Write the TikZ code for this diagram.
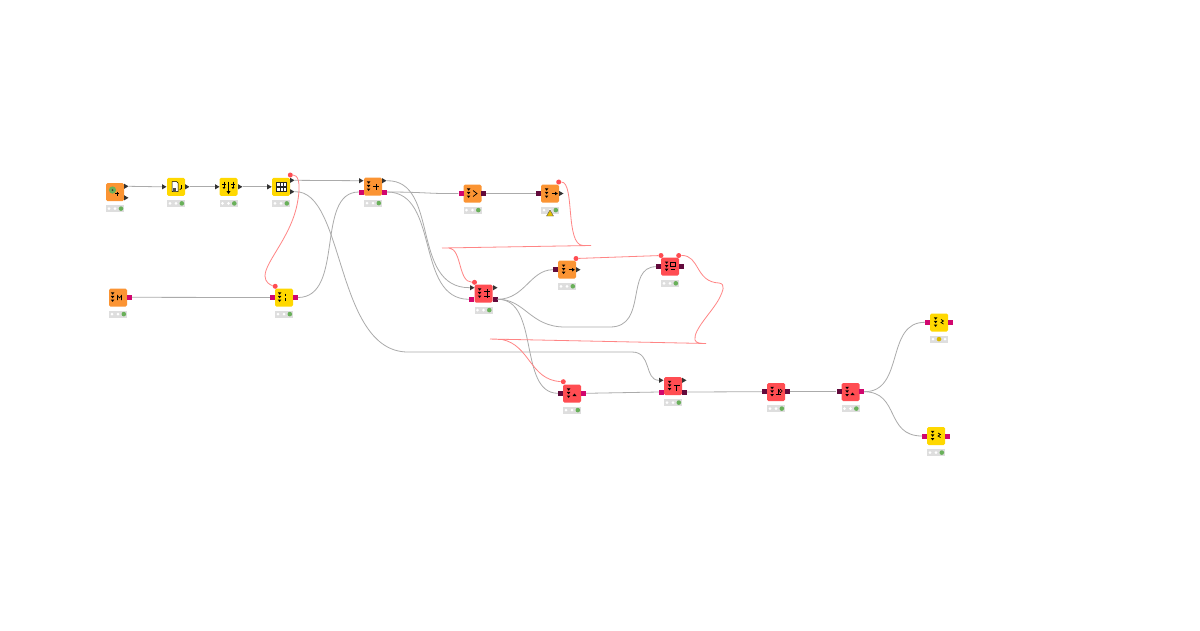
\documentclass[tikz,border=0pt]{standalone}
\usetikzlibrary{shapes.geometric}

\definecolor{knorange}{HTML}{FB9433}
\definecolor{knyellow}{HTML}{FFD800}
\definecolor{knred}{HTML}{FF4D52}
\definecolor{kncrimson}{HTML}{D1066E}
\definecolor{kndark}{HTML}{620A3C}
\definecolor{kngrey}{HTML}{ABABAB}
\definecolor{knflow}{HTML}{FF8585}
\definecolor{knlight}{HTML}{69B05A}

\tikzset{
    knbox/.style={rectangle, minimum size=18pt, inner sep=0pt, rounded corners=1.5pt},
    statusbar/.style={rectangle, fill=black!13, minimum width=18pt, minimum height=7pt, inner sep=0pt},
    datapin/.style={regular polygon, regular polygon sides=3, regular polygon rotate=-90, fill=black!80, minimum size=6pt, inner sep=0pt},
    docpin/.style={rectangle, fill=#1, minimum size=5pt, inner sep=0pt},
    flowdot/.style={circle, fill=knred, minimum size=5pt, inner sep=0pt},
    wire/.style={draw=kngrey, line width=0.8pt},
    flow/.style={draw=knflow, line width=0.8pt}
}

% node box, status bar with its three lamps
\newcommand{\knnode}[4]{
    \node[knbox, fill=#4] (#1) at (#2,#3) {};
    \node[statusbar] (#1-s) at (#2,#3+16.6) {};
    \foreach \d in {-6,0,6} {
        \fill[white] (#2+\d,#3+16.6) circle (1.5pt);
    }
}
% the three small marks on the left of a node
\newcommand{\knmarks}[2]{
    \foreach \d in {-4,-0.4,3.2} {
        \fill[black] (#1-5.2,#2+\d-1.2) -- (#1-1.6,#2+\d-1.2) -- (#1-3.4,#2+\d+1.2) -- cycle;
    }
}

\begin{document}
\begin{tikzpicture}[x=1pt,y=-1pt]
    \useasboundingbox (0,0) rectangle (1200,630);
    \fill[white] (0,0) rectangle (1200,630);

    % Nodes
    \knnode{n1}{115}{192}{knorange}
    \knnode{n2}{176}{186.8}{knyellow}
    \knnode{n3}{228.5}{186.8}{knyellow}
    \knnode{n4}{281}{186.8}{knyellow}
    \knnode{m}{118}{297.5}{knorange}
    \knnode{j}{284}{297.5}{knyellow}
    \knnode{n5}{373}{186.5}{knorange}
    \knnode{n6}{472.5}{193.5}{knorange}
    \knnode{n7}{550}{193.5}{knorange}
    \knnode{n8}{483.5}{293.5}{knred}
    \knnode{n9}{567}{269.7}{knorange}
    \knnode{n10}{670}{266.7}{knred}
    \knnode{n11}{572}{393.5}{knred}
    \knnode{n12}{673}{386}{knred}
    \knnode{n13}{776}{392}{knred}
    \knnode{n14}{850.5}{392}{knred}
    \knnode{n15}{939}{322.5}{knyellow}
    \knnode{n16}{936}{436}{knyellow}

    % Status lamps
    \foreach \x/\y in {121/208.6, 181.8/203.4, 234.3/203.4, 286.8/203.4, 123.8/314.1, 289.8/314.1,
                       378.8/203.1, 478.3/210.1, 555.8/210.1, 489.3/310.1, 572.8/286.3, 675.8/283.3,
                       577.8/410.1, 678.8/402.6, 781.8/408.6, 856.3/408.6, 941.8/452.6} {
        \fill[knlight] (\x,\y) circle (2.3pt);
    }
    \fill[knyellow!85!black] (939,339.1) circle (2.3pt);
    \node[regular polygon, regular polygon sides=3, minimum size=8pt, inner sep=0pt, fill=knyellow!90!black, draw=black!65, line width=0.4pt] (warn) at (550,214) {};

    % Data pins
    \foreach \n/\x/\y in {n1-a/125.5/186.3, n1-b/125.5/197.8, n2-i/163.5/186.8, n2-o/186.5/186.8,
                          n3-i/216.5/186.8, n3-o/239.5/186.8, n4-i/268.7/186.8, n4-a/291.5/180.3,
                          n4-b/291.5/191.7, n5-i/360.5/180.7, n5-a/383.5/180.7, n7-o/560.5/193.5,
                          n8-i/471.5/287.7, n8-a/494.5/287.7, n9-o/577.5/269.7,
                          n12-i/660.5/380.3, n12-a/683.5/380.3} {
        \node[datapin] (\n) at (\x,\y) {};
    }

    % Document pins
    \foreach \n/\x/\y in {m-o/129.3/297.3, j-i/272.5/297.5, j-o/295.5/297.5, n5-c/361.5/192,
                          n5-d/384.5/192, n6-i/461/193.5, n8-c/471.5/299.3, n11-o/583.5/393.3,
                          n12-c/661.5/392, n14-o/861.5/391.7, n15-i/927.7/322.3, n15-o/950.5/322.3,
                          n16-i/924.7/436, n16-o/947.7/436} {
        \node[docpin=kncrimson] (\n) at (\x,\y) {};
    }
    \foreach \n/\x/\y in {n6-o/483.5/193.5, n7-i/538.5/193.5, n8-d/495/299.3, n9-i/555.5/269.7,
                          n10-i/658.5/266.7, n10-o/681.5/266.7, n11-i/560.5/393.3, n12-d/684.5/392,
                          n13-i/764.5/391.7, n13-o/787.5/391.7, n14-i/839/391.7} {
        \node[docpin=kndark] (\n) at (\x,\y) {};
    }

    % Flow dots
    \foreach \n/\x/\y in {n4-f/290.3/175, j-f/275.2/286.3, n7-f/558.7/182, n8-f/474.5/282.3,
                          n9-f/576/258.5, n10-f/661/255.5, n10-g/678.7/255.5, n11-f/563.3/381.7} {
        \node[flowdot] (\n) at (\x,\y) {};
    }

    % Data connectors
    \draw[wire] (n1-a.east) -- (n2-i.west);
    \draw[wire] (n2-o.east) -- (n3-i.west);
    \draw[wire] (n3-o.east) -- (n4-i.west);
    \draw[wire] (n4-a.east) -- (n5-i.west);
    \draw[wire] (m-o.east) -- (j-i.west);
    \draw[wire] (j-o.east) .. controls (345,297) and (315,192) .. (n5-c.west);
    \draw[wire] (n4-b.east) .. controls (345,190) and (335,352) .. (408,352)
        -- (632,352) .. controls (652,352) and (644,380) .. (n12-i.west);
    \draw[wire] (n5-a.east) .. controls (440,180) and (410,288) .. (n8-i.west);
    \draw[wire] (n5-d.east) .. controls (425,192) and (430,194) .. (n6-i.west);
    \draw[wire] (n5-d.east) .. controls (440,192) and (415,299) .. (n8-c.west);
    \draw[wire] (n6-o.east) -- (n7-i.west);
    \draw[wire] (n8-d.east) .. controls (525,299) and (530,270) .. (n9-i.west);
    \draw[wire] (n8-d.east) .. controls (525,299) and (530,327) .. (565,327)
        -- (610,327) .. controls (648,327) and (625,267) .. (n10-i.west);
    \draw[wire] (n8-d.east) .. controls (540,299) and (518,393) .. (n11-i.west);
    \draw[wire] (n11-o.east) -- (n12-c.west);
    \draw[wire] (n12-d.east) -- (n13-i.west);
    \draw[wire] (n13-o.east) -- (n14-i.west);
    \draw[wire] (n14-o.east) .. controls (905,392) and (885,322) .. (n15-i.west);
    \draw[wire] (n14-o.east) .. controls (900,392) and (885,436) .. (n16-i.west);

    % Flow connectors
    \draw[flow] (n4-f) .. controls (297,175) and (302,180) .. (297,205)
        .. controls (290,238) and (265,262) .. (265,276)
        .. controls (265,282) and (270,285) .. (j-f);
    \draw[flow] (n7-f) .. controls (575,182) and (565,245) .. (583,245.5)
        -- (591,245.5) -- (442,248) -- (449,248)
        .. controls (462,249) and (458,282) .. (n8-f);
    \draw[flow] (n9-f) -- (n10-f);
    \draw[flow] (n10-g) .. controls (700,255) and (695,282) .. (719,283)
        .. controls (726,284) and (723,291) .. (719,299)
        .. controls (712,312) and (693,330) .. (695,340)
        .. controls (696,343) and (700,343.5) .. (706,343.5)
        -- (490,339) -- (502,339.5) .. controls (530,345) and (530,380) .. (n11-f);

    % Icons
    \fill[knlight] (112.5,190) circle (3.6pt);
    \fill[black!75] (112.5,190) circle (1pt);
    \draw[black, line width=0.8pt] (117,191.5) -- (117,195.5) (115,193.5) -- (119,193.5);
    % reader
    \draw[black, line width=0.5pt, fill=white] (172,181.5) -- (176.5,181.5) -- (178,183) -- (178,191.5) -- (172,191.5) -- cycle;
    \fill[black!70] (172.8,187.5) rectangle (175.5,190.5);
    \draw[black, line width=0.7pt] (181.5,185) -- (181.5,188.5) -- (179.8,189.5);
    % splitter arrows
    \draw[black, line width=0.7pt] (224,181.5) -- (224,187) (228.5,181.5) -- (228.5,192) (233,181.5) -- (233,187);
    \fill[black] (222.5,187) -- (225.5,187) -- (224,189) -- cycle;
    \fill[black] (226.5,191) -- (230.5,191) -- (228.5,194) -- cycle;
    \fill[black] (231.5,187) -- (234.5,187) -- (233,189) -- cycle;
    \draw[black, line width=0.5pt] (222,184.5) -- (226,184.5) (231,184.5) -- (235,184.5);
    % table
    \foreach \y in {182,187.5} {
        \draw[black!85, fill=white, line width=0.5pt] (276.5,\y) rectangle (286,\y+4);
        \draw[black!85, line width=0.4pt] (279.7,\y) -- (279.7,\y+4) (282.9,\y) -- (282.9,\y+4);
    }
    \knmarks{116}{297.5}
    \draw[black, line width=0.6pt] (117.5,300) -- (117.5,295.5) -- (119.5,298) -- (121.5,295.5) -- (121.5,300);
    \knmarks{283}{297.5}
    \draw[black, line width=0.8pt] (285.5,293.5) -- (285.5,296) (285.5,298) -- (285.5,301);
    \knmarks{372}{186.5}
    \draw[black, line width=0.7pt] (376,183.5) -- (376,189.5) (373,186.5) -- (379,186.5);
    \knmarks{472}{193.5}
    \draw[black, line width=0.7pt] (473,190.5) -- (477,193.5) -- (473,196.5);
    \knmarks{550}{193.5}
    \knmarks{483}{293.5}
    \knmarks{567}{269.7}
    \knmarks{670}{266.7}
    \knmarks{572}{393.5}
    \knmarks{673}{386}
    \knmarks{775.5}{392}
    \knmarks{850.5}{392}
    \knmarks{939}{322.5}
    \knmarks{936}{436}
    % arrows and small glyphs
    \foreach \x/\y in {554/193.5, 571/269.7} {
        \draw[black, line width=0.7pt] (\x-2.5,\y) -- (\x+3,\y);
        \fill[black] (\x+1,\y-1.8) -- (\x+3.8,\y) -- (\x+1,\y+1.8) -- cycle;
    }
    \draw[black, line width=0.8pt] (673.5,385) -- (679.5,385) (676.5,385) -- (676.5,391);
    \draw[black, line width=0.7pt] (484,291) -- (490,291) (484,296) -- (490,296) (487,289) -- (487,298);
    \draw[black, line width=0.7pt] (670.5,269.5) -- (675,269.5) (670.5,262) rectangle (675,266);
    \foreach \x/\y in {574.5/396, 852.5/395} {
        \fill[black] (\x-2,\y) -- (\x+2,\y) -- (\x,\y-2.5) -- cycle;
    }
    \draw[black, line width=0.7pt] (778,388.5) -- (778,394) (775.5,394) -- (780.5,394);
    \draw[black, line width=0.6pt] (780.5,391) circle (1.8pt);
    \draw[black, line width=0.7pt] (941,319.5) -- (943.5,321) -- (941,322.5) -- (943.5,324);
    \draw[black, line width=0.7pt] (938,433) -- (940.5,434.5) -- (938,436) -- (940.5,437.5);
\end{tikzpicture}
\end{document}
